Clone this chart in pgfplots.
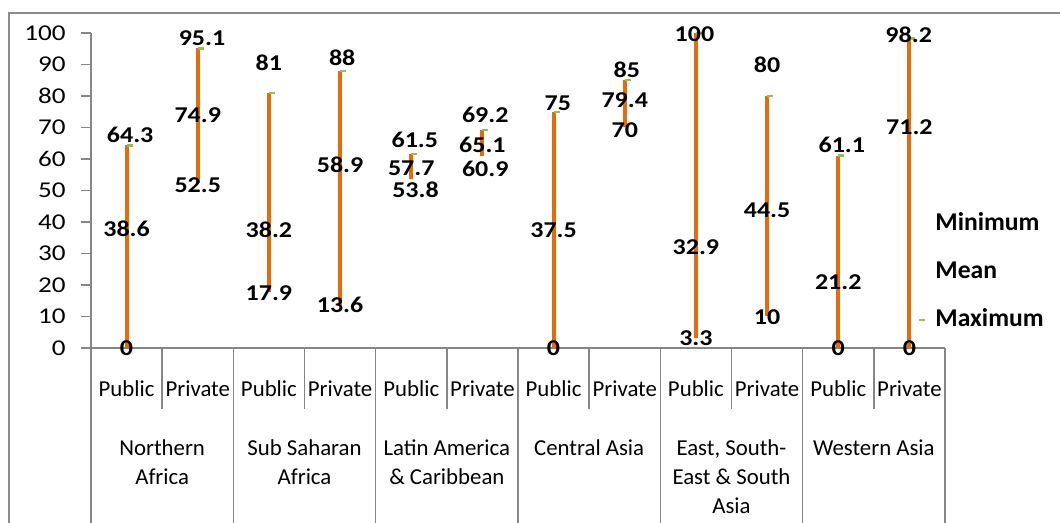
\documentclass[border=0pt]{standalone}
\usepackage{fontspec}
\setmainfont{Carlito}
\newfontfamily\numfont{Carlito}[FakeStretch=1.2]
\newfontfamily\lblfont{Carlito}[FakeStretch=1.15]
\usepackage{pgfplots}
\pgfplotsset{compat=1.18}
\usepackage{pgfplotstable}
\definecolor{hlorange}{RGB}{228,108,10}
\definecolor{maxgreen}{RGB}{155,187,89}
\definecolor{axgray}{RGB}{134,134,134}
\definecolor{framegray}{RGB}{140,140,140}

\pgfplotstableread{
x    min  mean  max   lmin  lmean lmax  xlmin  xlmax
0.5  0    38.6  64.3  0     37.7  67.6  0.5    0.55
1.5  52.5 74.9  95.1  51.7  74.0  98.5  1.5    1.56
2.5  17.9 38.2  81    17.4  37.5  90.4  2.5    2.5
3.5  13.6 58.9  88    13.6  58.1  92.2  3.5    3.53
4.5  53.8 57.7  61.5  50.2  57.1  66.0  4.56   4.55
5.5  60.9 65.1  69.2  57.0  64.4  74.0  5.54   5.54
6.5  0    37.5  75    0     37.5  77.8  6.5    6.56
7.5  70   79.4  85    69.2  78.7  88.3  7.5    7.53
8.5  3.3  32.9  100   3.2   32.1  99.7  8.5    8.48
9.5  10   44.5  80    9.9   43.8  89.8  9.5    9.5
10.5 0    21.2  61.1  0     21.0  64.4  10.5   10.55
11.5 0    71.2  98.2  0     70.2  99.4  11.5   11.49
}\data

\newcommand\catfont{\fontsize{11.4}{13}\selectfont}
\newcommand\grp[3]{\node[anchor=base, font=\catfont, inner sep=0pt] at (#1pt,#2pt) {#3};}

\begin{document}
\begin{tikzpicture}
\useasboundingbox (-45.5pt,-87.5pt) rectangle (484.5pt,174pt);
\draw[framegray, line width=1pt] (-41pt,-90pt) -- (-41pt,167.5pt) -- (490pt,167.5pt);
\begin{axis}[
  at={(0,0)}, anchor=south west,
  scale only axis, width=427pt, height=157.5pt,
  xmin=0, xmax=12, ymin=0, ymax=100,
  clip=false,
  axis lines=left,
  axis line style={-, axgray, line width=0.8pt},
  ytick={0,10,...,100},
  y tick style={axgray, line width=0.8pt},
  tick align=outside, major tick length=5pt,
  xtick={0.5,1.5,...,11.5},
  x tick style={draw=none},
  xticklabels={Public,Private,Public,Private,Public,Private,Public,Private,Public,Private,Public,Private},
  xticklabel style={anchor=base, yshift=-19.2pt, font=\catfont, inner sep=0pt},
  yticklabel style={anchor=east, inner sep=0pt, xshift=-7.5pt, font=\numfont\fontsize{11.3}{13}\selectfont},
  /pgf/number format/assume math mode=true,
  legend image code/.code={\draw[#1] plot coordinates {(0pt,0pt)};},
  legend cell align=left,
  legend style={at={(axis cs:11.635,24.1)}, anchor=west, draw=none, fill=none, inner sep=0pt,
    font=\bfseries\fontsize{12.8}{15}\selectfont,
    nodes={inner sep=0pt, text height=9pt, text depth=3pt}, row sep=12pt,
    /tikz/every odd column/.append style={column sep=5pt}},
]
% high-low lines with maximum markers
\addplot[forget plot, only marks, mark=-, mark size=1.5pt,
  mark options={maxgreen, line width=1.2pt, xshift=1.5pt},
  error bars/.cd, y dir=minus, y explicit, error mark=none,
  error bar style={hlorange, line width=2pt}]
  table[x=x, y=max, y error minus expr=\thisrow{max}-\thisrow{min}] {\data};
% data labels
\pgfplotsset{lbl/.style={forget plot, only marks, mark=none, nodes near coords,
  point meta=explicit symbolic,
  every node near coord/.append style={anchor=center, inner sep=0pt, text=black,
    font=\lblfont\bfseries\fontsize{11.3}{13}\selectfont}}}
\addplot[lbl] table[x=xlmin, y=lmin, meta=min] {\data};
\addplot[lbl] table[x=x, y=lmean, meta=mean] {\data};
\addplot[lbl] table[x=xlmax, y=lmax, meta=max] {\data};
\addlegendimage{draw=none, mark=none}
\addlegendentry{Minimum}
\addlegendimage{draw=none, mark=none}
\addlegendentry{Mean}
\addlegendimage{only marks, mark=-, mark size=1.5pt, mark options={maxgreen, line width=1.2pt}}
\addlegendentry{Maximum}
\end{axis}
% category separators
\foreach \i in {0,2,...,12} {\draw[axgray, line width=0.8pt] (\i*35.5833pt,0pt) -- (\i*35.5833pt,-90pt);}
\foreach \i in {1,3,...,11} {\draw[axgray, line width=0.8pt] (\i*35.5833pt,0pt) -- (\i*35.5833pt,-30.5pt);}
% group labels
\grp{35.583}{-53.7}{Northern}
\grp{35.583}{-68.2}{Africa}
\grp{106.75}{-53.7}{Sub Saharan}
\grp{106.75}{-68.2}{Africa}
\grp{177.92}{-53.7}{Latin America}
\grp{177.92}{-68.2}{\& Caribbean}
\grp{249.08}{-53.7}{Central Asia}
\grp{320.25}{-53.7}{East, South-}
\grp{320.25}{-68.2}{East \& South}
\grp{320.25}{-82.7}{Asia}
\grp{391.42}{-53.7}{Western Asia}
\end{tikzpicture}
\end{document}
